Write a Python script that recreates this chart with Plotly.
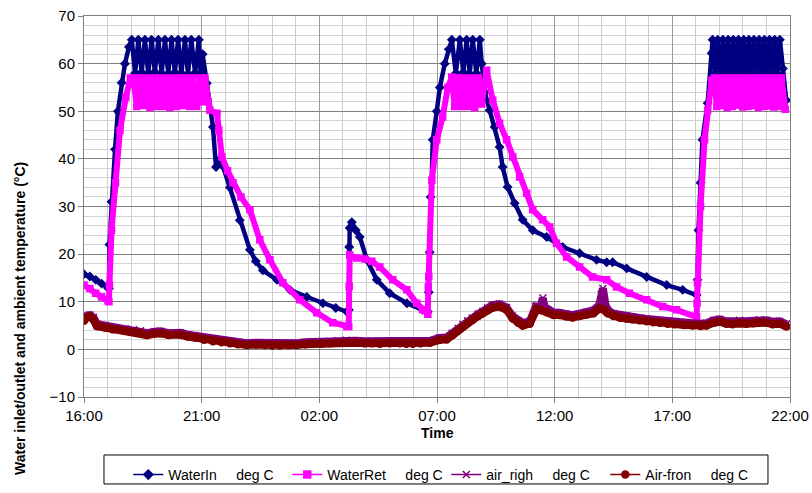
import pandas as pd
import plotly.graph_objects as go

# Logging start: 16:00 on day one; samples are (hours since start, deg C)
START = pd.Timestamp("2009-03-02 16:00")

water_in = [
    (0.00, 15.8), (0.25, 15.3), (0.50, 14.6), (0.75, 13.8), (1.02, 12.9), (1.06, 12.8),
    (1.08, 22.0), (1.17, 31.0), (1.32, 42.0), (1.44, 50.0), (1.60, 56.0), (1.74, 60.0), (1.91, 63.5),
    (2.03, 65.0), (2.17, 58.0), (2.31, 65.0), (2.45, 58.2), (2.59, 65.0), (2.73, 57.8),
    (2.87, 65.0), (3.01, 58.3), (3.16, 65.0), (3.30, 58.0), (3.44, 65.0), (3.58, 57.9),
    (3.72, 65.0), (3.86, 58.2), (4.00, 65.0), (4.14, 58.0), (4.29, 65.0), (4.42, 57.8),
    (4.56, 65.0), (4.72, 58.1), (4.88, 65.0), (4.96, 57.5), (5.04, 62.0),
    (5.22, 55.9), (5.48, 46.7), (5.61, 38.3), (5.73, 39.7), (5.90, 38.5), (6.20, 34.0),
    (6.62, 27.1), (7.05, 20.9), (7.30, 18.5), (7.60, 16.6), (8.20, 14.6), (8.75, 12.5),
    (9.47, 11.0), (10.15, 9.7), (10.70, 8.7), (11.17, 7.9), (11.25, 8.3),
    (11.27, 21.5), (11.29, 25.5), (11.38, 26.7), (11.55, 25.0), (11.72, 23.6), (12.02, 18.8),
    (12.44, 14.6), (12.99, 11.8), (13.72, 9.7), (14.39, 8.3), (14.61, 7.9),
    (14.65, 12.0), (14.69, 20.4), (14.73, 32.0), (14.82, 44.0), (14.99, 50.0), (15.12, 55.0),
    (15.33, 60.0), (15.50, 63.0),
    (15.63, 65.0), (15.80, 58.0), (15.97, 65.0), (16.12, 58.2), (16.26, 65.0), (16.39, 57.8),
    (16.52, 65.0), (16.67, 58.0), (16.82, 65.0), (16.90, 60.0),
    (17.03, 54.0), (17.24, 50.2), (17.45, 46.7), (17.66, 42.5), (17.79, 38.3), (18.00, 34.1),
    (18.30, 30.7), (18.64, 27.2), (19.07, 25.0), (19.66, 23.6), (20.34, 21.5), (21.06, 20.2),
    (21.78, 18.8), (22.21, 18.3), (22.46, 18.3), (23.06, 17.0), (23.91, 15.2), (24.76, 13.5),
    (25.44, 12.5), (26.03, 11.4),
    (26.07, 14.6), (26.11, 25.0), (26.20, 35.0), (26.28, 44.0), (26.50, 51.7), (26.67, 62.2),
    (26.71, 65.0), (26.82, 58.0), (26.93, 65.0), (27.04, 57.6), (27.15, 65.0), (27.26, 58.4),
    (27.37, 65.0), (27.48, 57.8), (27.59, 65.0), (27.70, 58.2), (27.81, 65.0), (27.92, 57.5),
    (28.03, 65.0), (28.14, 58.3), (28.25, 65.0), (28.36, 57.9), (28.47, 65.0), (28.58, 58.1),
    (28.69, 65.0), (28.80, 57.6), (28.91, 65.0), (29.02, 58.2), (29.13, 65.0), (29.24, 57.8),
    (29.35, 65.0), (29.46, 58.0), (29.57, 65.0), (29.70, 59.0), (29.84, 52.3),
]

water_ret = [
    (0.00, 13.5), (0.25, 12.8), (0.50, 11.8), (0.75, 11.0), (1.02, 10.2), (1.06, 10.0),
    (1.08, 13.5), (1.17, 25.0), (1.34, 35.0), (1.53, 46.0), (1.78, 53.0), (1.97, 57.0),
    (2.10, 57.0), (2.24, 51.0), (2.38, 57.0), (2.52, 51.2), (2.66, 57.0), (2.80, 50.8),
    (2.94, 57.0), (3.08, 51.0), (3.23, 57.0), (3.37, 51.0), (3.51, 57.0), (3.65, 50.8),
    (3.79, 57.0), (3.93, 51.0), (4.07, 57.0), (4.21, 51.2), (4.36, 57.0), (4.49, 51.0),
    (4.63, 57.0), (4.79, 51.0), (4.95, 57.0), (5.05, 52.0), (5.14, 57.0),
    (5.27, 52.0), (5.35, 50.2), (5.65, 49.6), (5.73, 46.0), (5.86, 40.4), (6.10, 37.5),
    (6.33, 35.0), (6.67, 32.0), (7.05, 29.3), (7.47, 23.0), (7.90, 18.8), (8.45, 14.0),
    (9.17, 10.4), (9.89, 7.7), (10.57, 5.6), (11.17, 4.8), (11.25, 4.8),
    (11.27, 13.2), (11.29, 19.8), (11.59, 19.2), (11.93, 19.0), (12.23, 18.5), (12.57, 17.3),
    (13.12, 14.6), (13.72, 12.5), (14.14, 9.7), (14.39, 8.3), (14.61, 7.4),
    (14.63, 13.1), (14.65, 15.3), (14.78, 35.5), (14.99, 44.0), (15.24, 48.8), (15.46, 55.0),
    (15.63, 57.2), (15.75, 51.0), (15.90, 57.0), (16.04, 51.0), (16.19, 57.0), (16.33, 51.0),
    (16.47, 57.0), (16.60, 50.8), (16.75, 57.0), (16.90, 51.5), (17.11, 58.6),
    (17.37, 52.3), (17.66, 47.5), (17.96, 44.0), (18.22, 40.4), (18.51, 36.2), (18.81, 32.8),
    (19.07, 29.3), (19.49, 27.2), (19.79, 25.7), (20.08, 22.3), (20.51, 19.4), (21.06, 17.3),
    (21.61, 15.2), (22.21, 14.6), (22.63, 13.1), (23.18, 11.8), (23.91, 10.4), (24.59, 9.0),
    (25.18, 8.3), (26.03, 6.8),
    (26.05, 9.7), (26.07, 14.0), (26.20, 30.0), (26.37, 44.0), (26.50, 50.2), (26.67, 56.5),
    (26.78, 57.0), (26.89, 51.0), (27.00, 57.0), (27.11, 51.2), (27.22, 57.0), (27.33, 50.8),
    (27.44, 57.0), (27.55, 51.0), (27.66, 57.0), (27.77, 51.3), (27.88, 57.0), (27.99, 50.9),
    (28.10, 57.0), (28.21, 51.0), (28.32, 57.0), (28.43, 51.2), (28.54, 57.0), (28.65, 50.8),
    (28.76, 57.0), (28.87, 51.0), (28.98, 57.0), (29.09, 51.1), (29.20, 57.0), (29.31, 50.9),
    (29.42, 57.0), (29.53, 51.0), (29.64, 57.0), (29.75, 51.0), (29.80, 50.4),
]

air_righ = [
    (0.00, 6.4), (0.10, 7.0), (0.25, 7.2), (0.40, 6.7), (0.55, 5.3), (0.90, 5.0),
    (1.25, 4.6), (1.75, 4.3), (2.10, 4.1), (2.40, 3.9), (2.70, 3.4), (3.00, 3.7),
    (3.25, 3.8), (3.60, 3.4), (4.10, 3.5), (4.40, 3.1), (4.70, 2.9), (5.10, 2.4),
    (5.50, 2.1), (5.85, 1.9), (6.20, 1.7), (6.55, 1.5), (6.90, 1.3), (7.30, 1.4),
    (7.70, 1.3), (8.00, 1.2), (8.30, 1.2), (8.70, 1.3), (9.05, 1.3), (9.40, 1.5),
    (9.70, 1.6), (10.10, 1.6), (10.45, 1.7), (10.80, 1.8), (11.15, 1.9), (11.55, 1.8),
    (11.95, 1.7), (12.25, 1.7), (12.55, 1.6), (13.00, 1.7), (13.40, 1.7), (13.70, 1.6),
    (14.00, 1.6), (14.30, 1.7), (14.70, 1.8), (15.10, 2.4), (15.40, 2.5), (15.65, 3.4),
    (15.90, 4.4), (16.10, 5.2), (16.30, 6.0), (16.50, 6.6), (16.75, 7.4), (16.95, 8.0),
    (17.15, 8.7), (17.35, 9.3), (17.65, 9.5), (17.95, 8.8), (18.20, 7.0), (18.45, 6.0),
    (18.65, 5.5), (18.95, 5.9), (19.20, 9.0), (19.40, 8.8), (19.50, 10.8), (19.55, 9.0),
    (19.70, 8.3), (19.95, 7.7), (20.20, 7.7), (20.50, 7.4), (20.75, 7.2), (21.05, 7.5),
    (21.35, 7.8), (21.65, 8.2), (21.90, 9.3), (21.98, 11.5), (22.05, 12.8), (22.15, 9.5),
    (22.25, 8.2), (22.50, 7.5), (22.75, 7.2), (23.05, 7.0), (23.30, 6.8), (23.60, 6.6),
    (23.90, 6.4), (24.20, 6.2), (24.45, 6.1), (24.80, 5.9), (25.10, 5.8), (25.50, 5.6),
    (25.85, 5.5), (26.20, 5.4), (26.45, 5.5), (26.75, 6.1), (27.00, 6.3), (27.30, 5.9),
    (27.55, 5.8), (27.85, 6.1), (28.15, 5.9), (28.45, 6.0), (28.70, 6.2), (29.00, 6.1),
    (29.25, 5.8), (29.55, 5.9), (29.85, 5.3),
]

air_fron = [
    (0.00, 6.0), (0.08, 6.6), (0.25, 6.9), (0.38, 6.4), (0.55, 4.9), (0.89, 4.6),
    (1.23, 4.2), (1.74, 3.9), (2.10, 3.7), (2.38, 3.5), (2.68, 3.0), (3.00, 3.3),
    (3.23, 3.4), (3.60, 3.0), (4.08, 3.1), (4.40, 2.7), (4.71, 2.5), (5.10, 2.0),
    (5.48, 1.7), (5.85, 1.5), (6.20, 1.3), (6.55, 1.1), (6.92, 0.9), (7.30, 1.0),
    (7.69, 0.9), (8.00, 0.8), (8.32, 0.8), (8.70, 0.9), (9.04, 0.9), (9.40, 1.1),
    (9.72, 1.2), (10.10, 1.2), (10.45, 1.3), (10.80, 1.4), (11.17, 1.5), (11.55, 1.4),
    (11.93, 1.3), (12.25, 1.3), (12.57, 1.2), (13.00, 1.3), (13.42, 1.3), (13.70, 1.2),
    (13.97, 1.2), (14.30, 1.3), (14.69, 1.4), (15.12, 2.0), (15.41, 2.1), (15.67, 3.0),
    (15.90, 4.0), (16.09, 4.8), (16.30, 5.6), (16.52, 6.2), (16.75, 7.0), (16.94, 7.6),
    (17.15, 8.2), (17.37, 8.8), (17.66, 9.0), (17.96, 8.3), (18.22, 6.5), (18.45, 5.6),
    (18.64, 5.0), (18.94, 5.4), (19.24, 8.5), (19.45, 8.2), (19.66, 7.8), (19.95, 7.2),
    (20.21, 7.2), (20.50, 6.9), (20.76, 6.7), (21.05, 7.0), (21.36, 7.3), (21.65, 7.6),
    (21.91, 8.6), (22.10, 8.3), (22.25, 7.6), (22.50, 7.0), (22.76, 6.7), (23.05, 6.5),
    (23.31, 6.3), (23.60, 6.1), (23.91, 5.9), (24.20, 5.7), (24.46, 5.6), (24.80, 5.4),
    (25.10, 5.3), (25.50, 5.1), (25.86, 5.0), (26.20, 4.9), (26.45, 5.0), (26.75, 5.6),
    (27.00, 5.8), (27.30, 5.4), (27.56, 5.3), (27.85, 5.6), (28.15, 5.4), (28.45, 5.5),
    (28.70, 5.7), (29.00, 5.6), (29.26, 5.3), (29.55, 5.4), (29.85, 4.8),
]

SERIES = [
    # name, samples, colour, marker symbol, line width, marker size
    ("WaterIn", water_in, "#000080", "diamond", 4.5, 6),
    ("WaterRet", water_ret, "#FF00FF", "square", 6, 6),
    ("air_righ", air_righ, "#800080", "x-thin-open", 8, 7),
    ("Air-fron", air_fron, "#800000", "circle", 8, 7),
]

FONT = "Liberation Sans, Arial, sans-serif"
GAP = "\u00a0" * 5


def clock(hours):
    return START + pd.to_timedelta(list(hours), unit="h")


fig = go.Figure()

for name, samples, colour, symbol, lw, ms in SERIES:
    hours, temps = zip(*samples)
    fig.add_trace(go.Scatter(
        x=clock(hours), y=list(temps), mode="lines+markers", name=name,
        line=dict(color=colour, width=lw),
        marker=dict(symbol=symbol, size=ms, color=colour,
                    line=dict(color=colour, width=1.5)),
        showlegend=False,
    ))

# thin-line legend keys
for name, samples, colour, symbol, lw, ms in SERIES:
    fig.add_trace(go.Scatter(
        x=[None], y=[None], mode="lines+markers", name=f"{name}{GAP}deg C",
        line=dict(color=colour, width=1.5),
        marker=dict(symbol=symbol, size=7, color=colour,
                    line=dict(color=colour, width=1.5)),
    ))

fig.update_layout(
    width=812, height=493,
    margin=dict(l=84, r=22, t=16, b=96, autoexpand=False),
    paper_bgcolor="white", plot_bgcolor="white",
    font=dict(family=FONT, size=15, color="black"),
    xaxis=dict(
        type="date",
        range=[START, START + pd.Timedelta(hours=30)],
        tick0=START, dtick=5 * 3600 * 1000, tickformat="%H:%M",
        ticks="outside", ticklen=5, tickcolor="#808080",
        showline=True, linecolor="#808080", mirror=True,
        showgrid=True, gridcolor="#9a9a9a", gridwidth=1,
        minor=dict(dtick=3600 * 1000, showgrid=True, gridcolor="#cdcdcd", ticks=""),
        zeroline=False,
    ),
    yaxis=dict(
        range=[-10, 70], tick0=0, dtick=10,
        ticks="outside", ticklen=5, tickcolor="#808080",
        showline=True, linecolor="#808080", mirror=True,
        showgrid=True, gridcolor="#808080", gridwidth=1,
        minor=dict(dtick=2, showgrid=True, gridcolor="#d3d3d3", ticks=""),
        zeroline=False,
    ),
    legend=dict(
        orientation="h", xref="container", yref="container",
        x=0.158, xanchor="left", y=0.069, yanchor="top",
        borderwidth=0, bgcolor="rgba(0,0,0,0)",
        font=dict(family=FONT, size=14),
        entrywidth=114, entrywidthmode="pixels",
    ),
    shapes=[
        # frame around the legend keys
        dict(type="rect", xref="paper", yref="paper",
             x0=0.0283, x1=0.9688, y0=-0.1522, y1=-0.2283,
             line=dict(color="#000000", width=1), fillcolor="rgba(0,0,0,0)",
             layer="below"),
    ],
    annotations=[
        dict(text="<b>Time</b>", xref="paper", yref="paper", x=0.5, y=-0.0945,
             xanchor="center", yanchor="middle", showarrow=False,
             font=dict(family=FONT, size=14)),
        dict(text="<b>Water inlet/outlet and ambient temperature (°C)</b>",
             xref="paper", yref="paper", x=-0.0906, y=0.205, textangle=-90,
             xanchor="center", yanchor="middle", showarrow=False,
             font=dict(family=FONT, size=14)),
    ],
)

fig.write_html("out.html")
